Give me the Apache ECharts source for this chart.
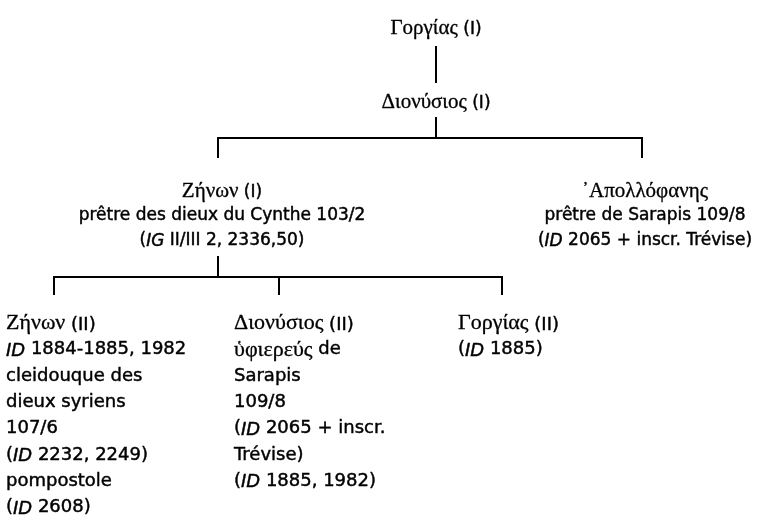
<!DOCTYPE html>
<html>
<head>
<meta charset="utf-8">
<script src="https://cdn.jsdelivr.net/npm/echarts/dist/echarts.min.js"></script>
<style>
  html, body { margin: 0; background: #fff; }
  #main { width: 765px; height: 515px; }
</style>
</head>
<body>
<div id="main"></div>
<script>
// stemma: name, ordinal, father (index), notes under the name
const greekNames = ['Γοργίας', 'Διονύσιος', 'Ζήνων', '᾿Απολλόφανης', 'Ζήνων', 'Διονύσιος', 'Γοργίας'];
const ordinals = ['(I)', '(I)', '(I)', '', '(II)', '(II)', '(II)'];
const parents = [-1, 0, 1, 1, 2, 2, 2];
const notes = [
  [],
  [],
  ['prêtre des dieux du Cynthe 103/2', '({it|IG} II/III 2, 2336,50)'],
  ['prêtre de Sarapis 109/8', '({it|ID} 2065 + inscr. Trévise)'],
  ['{it|ID} 1884-1885, 1982', 'cleidouque des', 'dieux syriens', '107/6', '({it|ID} 2232, 2249)', 'pompostole', '({it|ID} 2608)'],
  ['{gr|ὑφιερεύς} de', 'Sarapis', '109/8', '({it|ID} 2065 + inscr.', 'Trévise)', '({it|ID} 1885, 1982)'],
  ['({it|ID} 1885)']
];

// where each person sits on the page
const linkX = [436, 436, 218, 642, 54, 279, 502];
const textX = [436, 436, 222, 645, 6, 234, 458];
const textY = [27, 101, 190, 190, 322, 322, 322];
const lineTop = [0, 82, 157, 157, 294, 294, 294];
const lineBottom = [47, 118, 257, 0, 0, 0, 0];
const busGap = 20;

const upperLH = 24.5;
const lowerLH = 26.3;

// 0 = Gorgias (I), 1 = Dionysios (I), 2 = his sons, 3 = grandsons
function generation(i) {
  let g = 0;
  while (parents[i] >= 0) { i = parents[i]; g++; }
  return g;
}

// connectors: stem, bus, drops
let segs = [];
greekNames.forEach((_, p) => {
  let kids = parents.map((q, i) => q === p ? i : -1).filter(i => i >= 0);
  if (!kids.length) return;
  if (kids.length === 1) {
    segs.push({coords: [[linkX[p], lineBottom[p]], [linkX[kids[0]], lineTop[kids[0]]]]});
    return;
  }
  let busY = lineBottom[p] + busGap;
  segs.push({coords: [[linkX[p], lineBottom[p]], [linkX[p], busY]]});
  let xs = kids.map(k => linkX[k]);
  segs.push({coords: [[Math.min(...xs), busY], [Math.max(...xs), busY]]});
  kids.forEach(k => {
    segs.push({coords: [[linkX[k], busY], [linkX[k], lineTop[k]]]});
  });
});

// one text row per line
let rowPos = [], rowText = [], rowLower = [];
greekNames.forEach((_, i) => {
  let low = generation(i) >= 3;
  let lh = low ? lowerLH : upperLH;
  let first = '{gr|' + greekNames[i] + '}' + (ordinals[i] ? '{t| ' + ordinals[i] + '}' : '');
  [first].concat(notes[i]).forEach((r, k) => {
    rowPos.push([textX[i], textY[i] + k * lh]);
    rowText.push(r);
    rowLower.push(low);
  });
});

function richFor(size, gsize) {
  let base = {fill: '#000', stroke: '#000', lineWidth: 0.45, fontFamily: 'DejaVu Sans', fontSize: size,
    verticalAlign: 'middle', padding: [3, 0, 0, 0]};
  return {
    t: base,
    it: Object.assign({}, base, {fontStyle: 'italic'}),
    gr: Object.assign({}, base, {fontFamily: 'Liberation Serif', fontSize: gsize, padding: 0, lineWidth: 0.3})
  };
}
const richUpper = richFor(17, 21);
const richLower = richFor(18, 22);

let myChart = echarts.init(document.getElementById('main'));
let option = {
  animation: false,
  grid: {left: 0, right: 0, top: 0, bottom: 0},
  xAxis: {type: 'value', min: 0, max: 765, show: false},
  yAxis: {type: 'value', min: 0, max: 515, inverse: true, show: false},
  series: [
    {
      type: 'lines',
      coordinateSystem: 'cartesian2d',
      polyline: true,
      silent: true,
      lineStyle: {color: '#000', width: 2, opacity: 1, cap: 'square'},
      data: segs
    },
    {
      type: 'custom',
      silent: true,
      data: rowPos,
      encode: {x: 0, y: 1},
      renderItem: function (params, api) {
        let pt = api.coord([api.value(0), api.value(1)]);
        let i = params.dataIndex;
        let low = rowLower[i];
        return {
          type: 'text',
          x: pt[0],
          y: pt[1],
          style: {
            text: rowText[i],
            align: low ? 'left' : 'center',
            verticalAlign: 'middle',
            fill: '#000',
            stroke: '#000',
            lineWidth: 0.45,
            fontFamily: 'DejaVu Sans',
            fontSize: low ? 18 : 17,
            padding: [3, 0, 0, 0],
            rich: low ? richLower : richUpper
          }
        };
      }
    }
  ]
};
myChart.setOption(option);
</script>
</body>
</html>
